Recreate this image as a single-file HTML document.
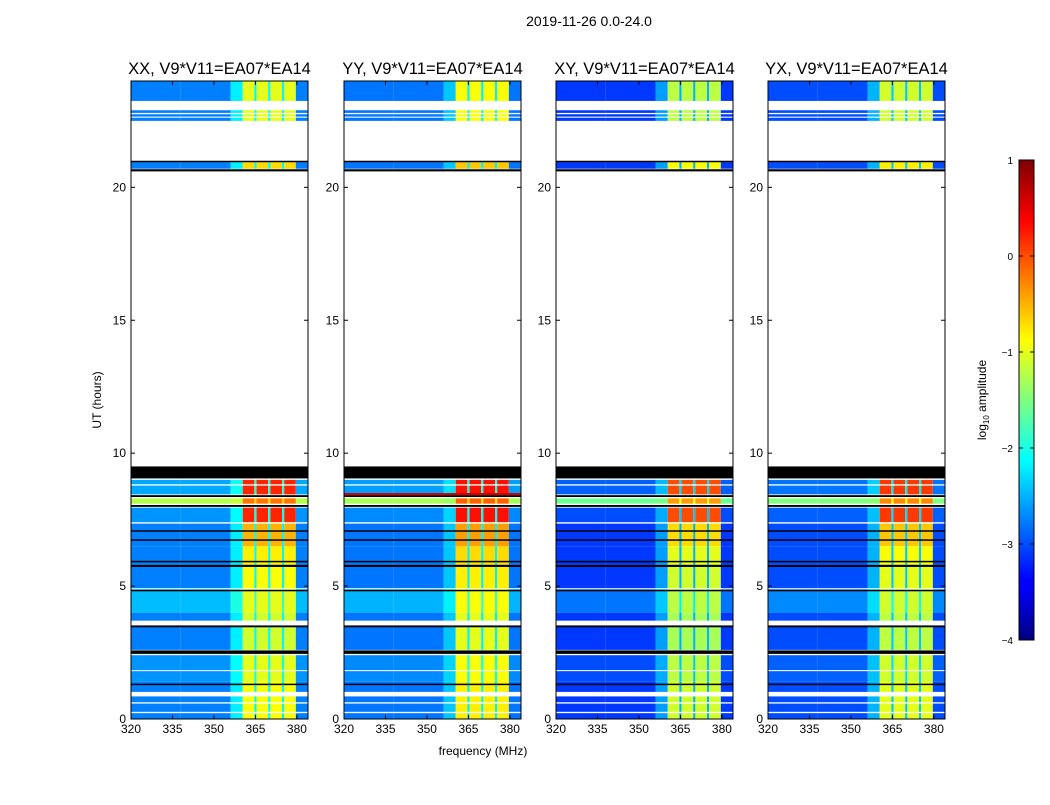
<!DOCTYPE html>
<html><head><meta charset="utf-8"><style>
body{margin:0;background:#fff;}
svg text{font-family:"Liberation Sans",sans-serif;}
</style></head><body>
<svg id="fig" width="1050" height="800" xmlns="http://www.w3.org/2000/svg">
<defs>
<linearGradient id="jetg" x1="0" y1="1" x2="0" y2="0">
<stop offset="0" stop-color="#00007f"/><stop offset="0.11" stop-color="#0000ff"/><stop offset="0.125" stop-color="#0000ff"/>
<stop offset="0.34" stop-color="#00dcff"/><stop offset="0.375" stop-color="#00ffff"/><stop offset="0.5" stop-color="#7fff7f"/>
<stop offset="0.625" stop-color="#ffff00"/><stop offset="0.66" stop-color="#ffdc00"/><stop offset="0.875" stop-color="#ff0000"/><stop offset="1" stop-color="#7f0000"/>
</linearGradient>
</defs>
<text x="589" y="26" font-size="14" text-anchor="middle">2019-11-26 0.0-24.0</text>
<text x="483" y="755" font-size="12" text-anchor="middle">frequency (MHz)</text>
<text transform="translate(101,400) rotate(-90)" font-size="12" text-anchor="middle">UT (hours)</text>
<g id="panels"></g>
<rect x="1019" y="160" width="15" height="480" fill="url(#jetg)" stroke="#000" stroke-width="1"/>
<g id="cbticks"></g>
<text transform="translate(986,400) rotate(-90)" font-size="12" text-anchor="middle">log<tspan font-size="8" dy="3">10</tspan><tspan dy="-3"> amplitude</tspan></text>
</svg>
<script>
const titles=["XX, V9*V11=EA07*EA14","YY, V9*V11=EA07*EA14","XY, V9*V11=EA07*EA14","YX, V9*V11=EA07*EA14"];
const panelLeft=[131,344,556,768];
const xTicks=[320,335,350,365,380];
const yTicks=[0,5,10,15,20];
const cbTicks=[1,0,-1,-2,-3,-4];
// frequency columns [f0,f1,kind] kind: 0 background, 1 transition, 2 band, 3 gap
const freqCols=[[320,338,0],[338,356,0],[356,360.4,1],[360.4,364.6,2],[364.6,365.4,3],[365.4,369.6,2],[369.6,370.4,3],[370.4,374.6,2],[374.6,375.4,3],[375.4,379.6,2],[379.6,384,0]];
// per-panel base levels (log10 amplitude)
const bgLevel=[-2.75,-2.8,-3.1,-3.0];
const transLevel=[-2.2,-2.4,-2.6,-2.5];
const bandLevel=[-1.1,-1.0,-1.3,-1.2];
// data segments [t0,t1,bandOffset,bgOffset]
const dataRows=[[23.25,24,0.1,0],[22.5,22.9,0.1,0],[20.7,20.95,0.4,0],
[8.45,9.0,1.3,0.2],[8.1,8.3,0.9,1.5],[7.4,7.95,1.3,0.1],[6.5,7.4,0.6,0],[5.8,6.5,0.3,0],
[4.9,5.8,0.2,0],[4.0,4.9,0.1,0.3],[3.7,4.0,0,0],[2.6,3.5,0,0],[1.4,2.4,0.1,0.1],[0.0,1.4,0.2,0]];
const blackRows=[[9.05,9.5],[20.6,20.68],[20.95,21.0],[8.35,8.42],[7.98,8.05],[7.05,7.1],[6.72,6.76],[5.9,5.95],[5.72,5.8],[4.82,4.86],[3.45,3.52],[2.45,2.58],[1.28,1.33]];
const whiteRows=[[22.75,22.8],[22.62,22.66],[8.78,8.83],[7.35,7.4],[4.88,4.92],[3.62,3.68],[3.55,3.58],[1.8,1.84],[0.85,1.02],[0.58,0.63],[0.22,0.27],[9.0,9.05]];
const redRowYY=[8.42,8.5];
{
const topY=81,botY=719,pw=177;
function yS(h){return botY-(h/24)*(botY-topY);}
function xS(f,p){return panelLeft[p]+(f-320)*(pw/64);}
function jet(v){let t=(v+4)/5;t=Math.max(0,Math.min(1,t));
 const c=x=>Math.round(255*Math.max(0,Math.min(1,x)));
 return `rgb(${c(1.5-Math.abs(4*t-3))},${c(1.5-Math.abs(4*t-2))},${c(1.5-Math.abs(4*t-1))})`;}
const NS="http://www.w3.org/2000/svg";
function mk(tag,attrs,parent){const e=document.createElementNS(NS,tag);for(const k in attrs)e.setAttribute(k,attrs[k]);parent.appendChild(e);return e;}
const G=document.getElementById('panels');
for(let p=0;p<4;p++){
 const g=mk('g',{},G);
 
 
 const x0=panelLeft[p];
 for(const r of dataRows){
  for(const c of freqCols){
   let v;
   if(c[2]===0)v=bgLevel[p]+r[3];
   else if(c[2]===1)v=transLevel[p]+r[3]*0.7;
   else if(c[2]===2)v=bandLevel[p]+r[2];
   else v=bgLevel[p]+0.6+r[3];
   const x1=xS(c[0],p),x2=Math.min(xS(c[1],p),x0+pw);
   const e=mk('rect',{x:x1,y:yS(r[1]),width:x2-x1,height:yS(r[0])-yS(r[1]),fill:jet(v)},g);
   
   
  }
 }
 if(p===1){const e=mk('rect',{x:x0,y:yS(redRowYY[1]),width:pw,height:yS(redRowYY[0])-yS(redRowYY[1]),fill:jet(0.6)},g);
  
  }
 for(const r of whiteRows){const e=mk('rect',{x:x0,y:yS(r[1]),width:pw,height:yS(r[0])-yS(r[1]),fill:'#fff'},g);
  
  }
 for(const r of blackRows){const e=mk('rect',{x:x0,y:yS(r[1]),width:pw,height:Math.max(1.5,yS(r[0])-yS(r[1])),fill:'#000'},g);
  
  }
 const fr=mk('rect',{x:x0,y:topY,width:pw,height:botY-topY,fill:'none',stroke:'#000','stroke-width':1},g);
 
 
 const t=mk('text',{x:x0+pw/2,y:74,'font-size':16.5,'text-anchor':'middle'},g);t.textContent=titles[p];
 
 
 for(const f of xTicks){const x=xS(f,p);
  mk('line',{x1:x,x2:x,y1:botY,y2:botY-4,stroke:'#000'},g);mk('line',{x1:x,x2:x,y1:topY,y2:topY+4,stroke:'#000'},g);
  const l=mk('text',{x:x,y:botY+14,'font-size':12,'text-anchor':'middle'},g);l.textContent=f;
  
  }
 for(const h of yTicks){const y=yS(h);
  mk('line',{x1:x0,x2:x0+4,y1:y,y2:y,stroke:'#000'},g);mk('line',{x1:x0+pw,x2:x0+pw-4,y1:y,y2:y,stroke:'#000'},g);
  const l=mk('text',{x:x0-5,y:y+4,'font-size':12,'text-anchor':'end'},g);l.textContent=h;
  
  }
}
const CB=document.getElementById('cbticks');
for(const v of cbTicks){const y=160+(1-v)*96;
 mk('line',{x1:1019,x2:1023,y1:y,y2:y,stroke:'#000'},CB);mk('line',{x1:1034,x2:1030,y1:y,y2:y,stroke:'#000'},CB);
 const l=mk('text',{x:1013,y:y+4,'font-size':10,'text-anchor':'end'},CB);l.textContent=v<0?'\u2212'+(-v):v;
 
 }
}
</script>
</body></html>
